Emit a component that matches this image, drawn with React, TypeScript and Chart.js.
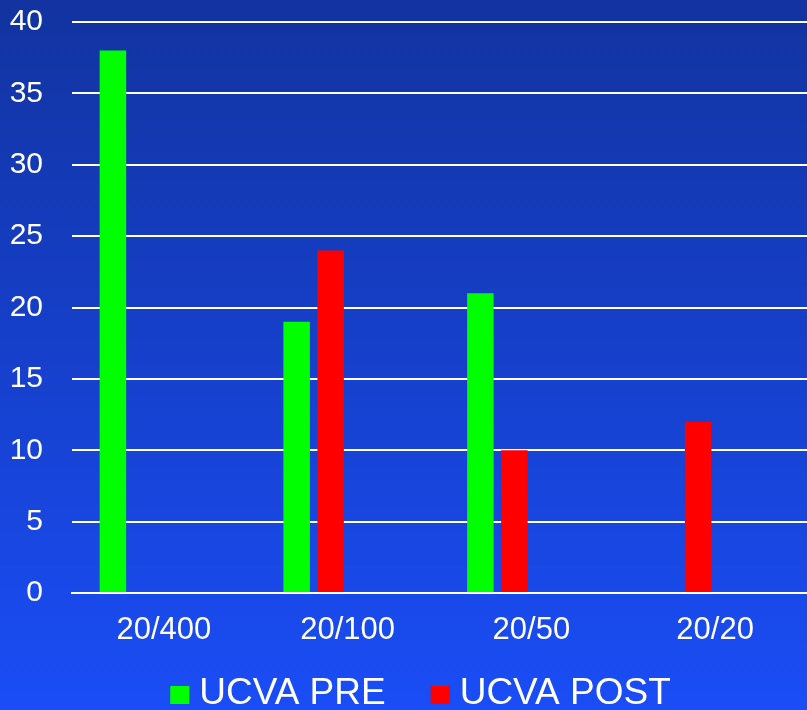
import React, { useEffect, useRef } from "react";
import { Chart, registerables } from "chart.js";

Chart.register(...registerables);

const categories = ["20/400", "20/100", "20/50", "20/20"];
const ucvaPre = [38, 19, 21, null];
const ucvaPost = [null, 24, 10, 12];
const emptySlotA = [null, null, null, null];
const emptySlotB = [null, null, null, null];
const yTicks = [0, 5, 10, 15, 20, 25, 30, 35, 40];

const FONT = "'Liberation Sans', Arial, sans-serif";

const bgPlugin = {
  id: "bgGradient",
  beforeDraw(chart: any) {
    const { ctx, width, height } = chart;
    const g = ctx.createLinearGradient(0, 0, 0, height);
    g.addColorStop(0, "#1233a0");
    g.addColorStop(1, "#1a4df6");
    ctx.save();
    ctx.fillStyle = g;
    ctx.fillRect(0, 0, width, height);
    ctx.restore();
  },
};

const legendPlugin = {
  id: "customLegend",
  afterDraw(chart: any) {
    const { ctx, width, height } = chart;
    const items = chart.data.datasets.filter((d: any) => d.label);
    const boxW = 19;
    const boxH = 18;
    const gapText = 10;
    const gapItem = 45;
    ctx.save();
    ctx.font = `37px ${FONT}`;
    const widths = items.map((d: any) => boxW + gapText + ctx.measureText(d.label).width);
    const total = widths.reduce((a: number, b: number) => a + b, 0) + gapItem * (items.length - 1);
    let x = width / 2 + 17 - total / 2;
    const baseline = height - 6;
    items.forEach((d: any, i: number) => {
      ctx.fillStyle = d.backgroundColor;
      ctx.fillRect(x, baseline - boxH, boxW, boxH);
      ctx.fillStyle = "#ffffff";
      ctx.textBaseline = "alphabetic";
      ctx.textAlign = "left";
      ctx.fillText(d.label, x + boxW + gapText, baseline);
      x += widths[i] + gapItem;
    });
    ctx.restore();
  },
};

export default function App() {
  const ref = useRef<HTMLCanvasElement>(null);
  useEffect(() => {
    if (!ref.current) return;
    const common = { barPercentage: 0.78, categoryPercentage: 0.74, borderWidth: 0 };
    const chart = new Chart(ref.current, {
      type: "bar",
      data: {
        labels: categories,
        datasets: [
          { label: "UCVA PRE", data: ucvaPre, backgroundColor: "#00ff00", ...common },
          { label: "UCVA POST", data: ucvaPost, backgroundColor: "#ff0000", ...common },
          { label: "", data: emptySlotA, backgroundColor: "#000", ...common },
          { label: "", data: emptySlotB, backgroundColor: "#000", ...common },
        ],
      },
      options: {
        animation: false,
        responsive: false,
        maintainAspectRatio: false,
        layout: { padding: 0 },
        plugins: {
          legend: { display: false },
          tooltip: { enabled: false },
        },
        scales: {
          x: {
            grid: { display: false, drawTicks: false },
            border: { display: true, color: "#ffffff", width: 2 },
            ticks: { color: "#ffffff", font: { family: FONT, size: 31 }, padding: 19 },
            afterFit: (scale: any) => {
              scale.height = 117;
            },
          },
          y: {
            min: 0,
            max: 40,
            afterBuildTicks: (scale: any) => {
              scale.ticks = yTicks.map((v) => ({ value: v }));
            },
            afterFit: (scale: any) => {
              scale.width = 72;
              scale.paddingTop = 22;
              scale.paddingBottom = 0;
            },
            grid: { color: "#ffffff", lineWidth: 2, drawTicks: false },
            border: { display: false },
            ticks: { color: "#ffffff", font: { family: FONT, size: 30 }, padding: 29 },
          },
        },
      },
      plugins: [bgPlugin, legendPlugin],
    });
    return () => chart.destroy();
  }, []);
  return (
    <div style={{ position: "fixed", left: 0, top: 0, width: 807, height: 710 }}>
      <canvas ref={ref} width={807} height={710} style={{ width: 807, height: 710 }} />
    </div>
  );
}
